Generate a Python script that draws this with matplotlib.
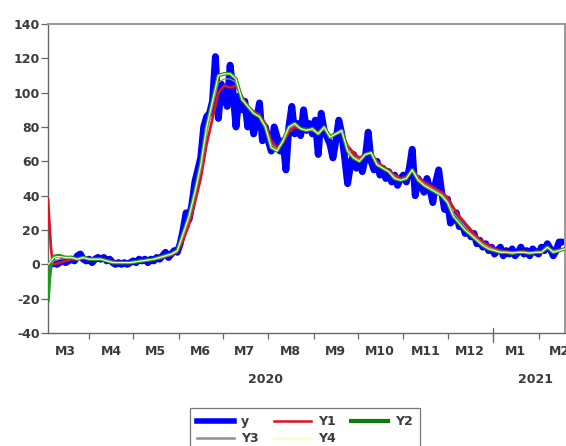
import numpy as np
import matplotlib
matplotlib.use("Agg")
import matplotlib.pyplot as plt
from matplotlib.lines import Line2D

plt.rcParams['font.family'] = ['DejaVu Sans']

start = np.datetime64('2020-03-04')

# observed series y, every 2 days from 2020-03-04
y_days = list(range(0, 351, 2))
y_vals = [0, 0, 1, 0, 1, 2, 1, 2, 3, 2,
          5, 6, 3, 2, 3, 1, 3, 4, 3, 4,
          2, 3, 1, 0, 1, 0, 1, 0, 1, 2,
          1, 3, 2, 3, 1, 3, 2, 4, 3, 5,
          7, 4, 6, 8, 7, 12, 20, 30, 26, 35,
          48, 55, 62, 80, 86, 88, 95, 121, 85, 105,
          100, 92, 116, 100, 80, 98, 90, 95, 80, 88,
          76, 84, 94, 72, 80, 72, 66, 80, 74, 66,
          72, 55, 80, 92, 76, 82, 75, 90, 78, 82,
          76, 84, 64, 88, 78, 74, 70, 62, 72, 84,
          76, 62, 47, 58, 64, 56, 60, 54, 62, 77,
          60, 55, 60, 52, 56, 50, 54, 48, 52, 46,
          50, 52, 48, 56, 67, 40, 50, 46, 42, 50,
          44, 36, 48, 55, 42, 32, 38, 24, 26, 30,
          22, 24, 18, 20, 16, 18, 12, 14, 10, 12,
          8, 10, 6, 8, 10, 5, 8, 6, 9, 5,
          7, 10, 6, 8, 5, 9, 7, 6, 10, 8,
          12, 9, 5, 8, 13, 13]

# fitted series, sampled on these days
s_days = [0, 1, 2, 3, 4, 6, 8] + list(range(12, 353, 4))

y1_vals = [38, 24, 10, 2, 0, 0.5, 1,
           2, 3, 3, 3.5, 3, 3, 3, 2.5, 1.5, 1, 1, 1, 1.5, 2, 2.5, 3, 3.5, 4.5, 5.5, 7,
           14, 23, 36, 50, 70, 85, 100, 104, 103, 104, 98, 92, 89, 87, 82, 72, 68, 71,
           77, 80, 79, 79, 78, 77, 79, 75, 76, 77, 69, 65, 62, 64, 65, 60, 57, 55, 52,
           50, 51, 55, 51, 48, 46, 44, 42, 39, 33, 28, 24, 20, 16, 13, 11, 9, 8, 7.5,
           7, 7, 7.5, 7, 7, 7.5, 9.5, 8, 8.5, 9]

y2_vals = [-21, -8, 0, 3, 4.5, 5, 5,
           4, 4, 3, 4, 3, 3, 3, 2, 1, 1, 1, 1, 1.5, 2, 2.5, 3, 4, 5, 6, 8,
           18, 28, 42, 58, 80, 95, 110, 111, 111, 108, 96, 92, 88, 86, 80, 68, 66, 72,
           80, 82, 79, 78, 79, 76, 80, 74, 76, 78, 66, 62, 60, 64, 65, 58, 56, 54, 50,
           49, 50, 55, 49, 46, 44, 42, 40, 36, 28, 24, 20, 17, 14, 11, 9, 8, 7,
           7, 6.5, 7, 7, 6.5, 7, 7, 10, 7, 8, 9]

y3_vals = [0, 0.5, 1, 1.5, 2, 2.5, 3,
           3.5, 3.5, 3, 3.5, 3, 3, 3, 2, 1.5, 1, 1, 1, 1.5, 2, 2.5, 3, 3.5, 4.5, 5.5, 7.5,
           16, 26, 40, 55, 76, 92, 106, 108, 108, 106, 97, 92, 88, 86, 81, 70, 67, 71,
           79, 81, 79, 78, 78, 76, 79, 75, 76, 77, 67, 63, 61, 64, 65, 59, 56, 54, 51,
           49, 50, 55, 50, 47, 45, 43, 41, 37, 30, 26, 22, 18, 15, 12, 10, 8.5, 7.5,
           7, 7, 7, 7, 6.5, 7, 7, 9.5, 7.5, 8, 9]

y4_vals = [0, 1, 2, 3, 4, 4.5, 4.5,
           4, 4, 3, 4, 3, 3, 3, 2, 1, 1, 1, 1, 1.5, 2, 2.5, 3, 4, 5, 6, 8,
           18, 28, 42, 58, 80, 95, 110, 111, 111, 108, 96, 92, 88, 86, 80, 68, 66, 72,
           80, 82, 79, 78, 79, 76, 80, 74, 76, 78, 66, 62, 60, 64, 65, 58, 56, 54, 50,
           49, 50, 55, 49, 46, 44, 42, 40, 36, 28, 24, 20, 17, 14, 11, 9, 8, 7,
           7, 6.5, 7, 7, 6.5, 7, 7, 10, 7, 8, 9]

series_names = ['y', 'Y1', 'Y2', 'Y3', 'Y4']
month_labels = ['M3', 'M4', 'M5', 'M6', 'M7', 'M8', 'M9', 'M10', 'M11', 'M12', 'M1', 'M2']
year_labels = ['2020', '2021']
y_ticks = list(range(-40, 141, 20))

TXT = '#3a3a3a'
FS = 9

yd = start + np.array(y_days, dtype='timedelta64[D]')
sd = start + np.array(s_days, dtype='timedelta64[D]')

fig = plt.figure(figsize=(5.66, 4.46), dpi=100)
ax = fig.add_axes([48/566, 1 - 333/446, (565-48)/566, (333-24)/446])

ax.plot(yd, y_vals, color='#0000ff', lw=5.0, solid_joinstyle='round', solid_capstyle='round', zorder=2)
ax.plot(sd, y1_vals, color='#e01020', lw=1.9, zorder=3)
ax.plot(sd, y2_vals, color='#1c9a1c', lw=2.6, zorder=4)
ax.plot(sd, y3_vals, color='#909090', lw=0.9, zorder=5)
ax.plot(sd, y4_vals, color='#f4f8a0', lw=0.9, zorder=6)

ax.set_ylim(-40, 140)
ax.set_yticks(y_ticks)
ax.set_yticklabels([str(v) for v in y_ticks], fontsize=FS, fontweight='bold', color=TXT)
ax.tick_params(axis='y', direction='out', length=5, width=0.9, color='#666', pad=1)

end = start + np.timedelta64(352, 'D')
ax.set_xlim(start, end)
month_starts = [np.datetime64(f'2020-{m:02d}-01') for m in range(4, 13)] + \
               [np.datetime64('2021-01-01'), np.datetime64('2021-02-01')]
ax.set_xticks(month_starts)
ax.set_xticklabels([''] * len(month_starts))
ax.tick_params(axis='x', direction='out', length=4, width=0.9, color='#666')
ax.axvline(np.datetime64('2021-01-01'), ymin=-0.03, ymax=0.015, color='#666', lw=0.9, clip_on=False)

mid_months = [np.datetime64(f'2020-{m:02d}-16') for m in range(3, 13)] + \
             [np.datetime64('2021-01-16'), np.datetime64('2021-02-15')]
for d, lab in zip(mid_months, month_labels):
    ax.text(d, -0.06, lab, transform=ax.get_xaxis_transform(), ha='center', va='center',
            fontsize=FS, fontweight='bold', color=TXT, clip_on=False)
year_pos = [np.datetime64('2020-07-30'), np.datetime64('2021-01-30')]
for d, lab in zip(year_pos, year_labels):
    ax.text(d, -0.152, lab, transform=ax.get_xaxis_transform(), ha='center', va='center',
            fontsize=FS, fontweight='bold', color=TXT, clip_on=False)

for s in ['left', 'bottom']:
    ax.spines[s].set_color('#666')
    ax.spines[s].set_linewidth(1.0)
for s in ['top', 'right']:
    ax.spines[s].set_color('#999')
    ax.spines[s].set_linewidth(1.4)

h_y = Line2D([], [], color='#0000ff', lw=4.0)
h_1 = Line2D([], [], color='#e01020', lw=1.8)
h_2 = Line2D([], [], color='#107a10', lw=3.0)
h_3 = Line2D([], [], color='#909090', lw=1.8)
h_4 = Line2D([], [], color='#fcfcc0', lw=1.8)
# column-major order so rows read: y Y1 Y2 / Y3 Y4
handles = [h_y, h_3, h_1, h_4, h_2]
labels = [series_names[0], series_names[3], series_names[1], series_names[4], series_names[2]]
leg = fig.legend(handles, labels, loc='upper left', bbox_to_anchor=(190/566, 1 - 408/446),
                 ncol=3, fontsize=FS, frameon=True, fancybox=False, edgecolor='#555',
                 handlelength=2.95, handletextpad=0.6, columnspacing=1.2, labelspacing=0.35,
                 borderpad=0.55, borderaxespad=0)
leg.get_frame().set_linewidth(0.9)
for t in leg.get_texts():
    t.set_fontweight('bold')
    t.set_color(TXT)

fig.savefig('out.png', dpi=100)
